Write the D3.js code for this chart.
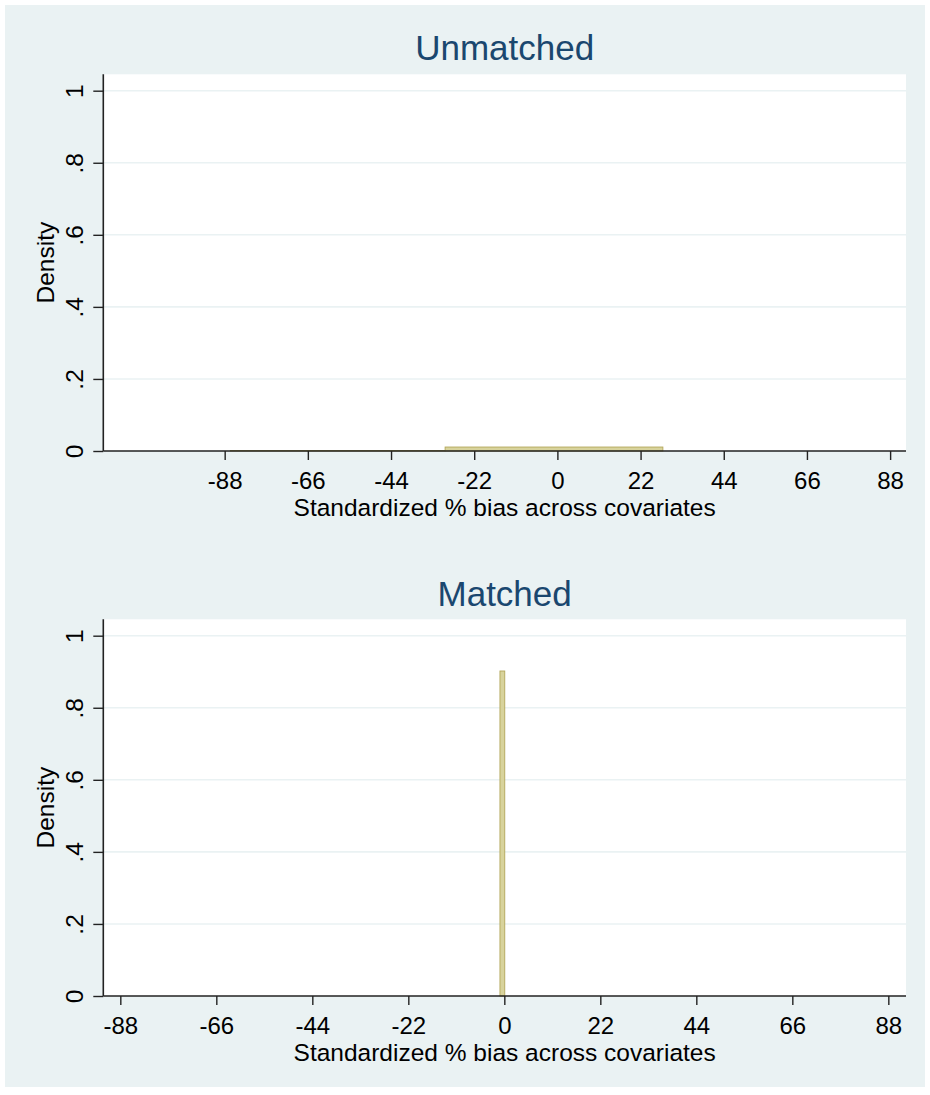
<!DOCTYPE html>
<html>
<head>
<meta charset="utf-8">
<script src="https://cdn.jsdelivr.net/npm/d3@7"></script>
<style>
  html, body { margin: 0; padding: 0; background: #ffffff; }
  svg { display: block; font-family: "Liberation Sans", Arial, sans-serif; }
</style>
</head>
<body>
<svg id="chart" width="930" height="1095"></svg>
<script>
// ---- data ----
const panelTitles = ["Unmatched", "Matched"];
const xTicks = [-88, -66, -44, -22, 0, 22, 44, 66, 88];
const xTickLabels = ["-88", "-66", "-44", "-22", "0", "22", "44", "66", "88"];
const yTicks = [0, 0.2, 0.4, 0.6, 0.8, 1];
const yTickLabels = ["0", ".2", ".4", ".6", ".8", "1"];
const xAxisTitle = "Standardized % bias across covariates";
const yAxisTitle = "Density";

// x axis ranges
const unmatchedXRange = [-120.1, 92.2];
const matchedXRange = [-91.9, 92.05];
const yRange = [0, 1.0455];

// histogram bins
const unmatchedBinStart = [-86.5, -29.7];
const unmatchedBinEnd = [-29.7, 27.9];
const unmatchedDensity = [0.0015, 0.011];

const matchedBinStart = [-1.0];
const matchedBinEnd = [0.1];
const matchedDensity = [0.902];

// ---- drawing ----
const svg = d3.select("#chart");
const bg = "#eaf2f3";
const font = "Liberation Sans, Arial, sans-serif";

svg.append("rect").attr("x", 5).attr("y", 5).attr("width", 920).attr("height", 1082)
  .attr("fill", bg);

const panels = [
  { title: panelTitles[0], xr: unmatchedXRange, s: unmatchedBinStart, e: unmatchedBinEnd, d: unmatchedDensity,
    left: 103.3, right: 906, top: 74.3, bottom: 451, titleY: 60 },
  { title: panelTitles[1], xr: matchedXRange, s: matchedBinStart, e: matchedBinEnd, d: matchedDensity,
    left: 103.3, right: 906, top: 619.3, bottom: 996, titleY: 606 }
];

panels.forEach(p => {
  const x = d3.scaleLinear().domain(p.xr).range([p.left, p.right]);
  const y = d3.scaleLinear().domain(yRange).range([p.bottom, p.top]);
  const g = svg.append("g");

  g.append("rect").attr("x", p.left).attr("y", p.top)
    .attr("width", p.right - p.left).attr("height", p.bottom - p.top)
    .attr("fill", "#ffffff");

  // grid lines
  g.selectAll("line.grid").data(yTicks.filter(t => t > 0)).enter().append("line")
    .attr("x1", p.left).attr("x2", p.right)
    .attr("y1", d => y(d)).attr("y2", d => y(d))
    .attr("stroke", bg).attr("stroke-width", 1.6);

  // bars
  const bins = p.s.map((s, i) => ({ s, e: p.e[i], d: p.d[i] }));
  g.selectAll("rect.bar").data(bins).enter().append("rect")
    .attr("x", b => x(b.s))
    .attr("width", b => x(b.e) - x(b.s))
    .attr("y", b => y(b.d))
    .attr("height", b => y(0) - y(b.d))
    .attr("fill", "#d8d39c")
    .attr("stroke", "#b3a65a")
    .attr("stroke-width", 0.9);

  // x axis
  const xa = g.append("g").attr("transform", `translate(0,${p.bottom})`)
    .call(d3.axisBottom(x).tickValues(xTicks).tickSize(9)
      .tickFormat((d, i) => xTickLabels[i]));
  xa.select(".domain").attr("stroke", "#222").attr("stroke-width", 1.6)
    .attr("d", `M${p.left},0H${p.right}`);
  xa.selectAll(".tick line").attr("stroke", "#222").attr("stroke-width", 1.4);
  xa.selectAll(".tick text").attr("font-size", 24).attr("fill", "#000")
    .attr("font-family", font)
    .attr("dy", null).attr("y", 38);

  // y axis
  const ya = g.append("g").attr("transform", `translate(${p.left},0)`)
    .call(d3.axisLeft(y).tickValues(yTicks).tickSize(10).tickFormat((d, i) => yTickLabels[i]));
  ya.select(".domain").attr("stroke", "#222").attr("stroke-width", 1.6)
    .attr("d", `M0,${p.top}V${p.bottom}`);
  ya.selectAll(".tick line").attr("stroke", "#222").attr("stroke-width", 1.4);
  ya.selectAll(".tick text").attr("font-size", 24.5).attr("fill", "#000")
    .attr("font-family", font)
    .attr("x", null).attr("dy", null)
    .attr("text-anchor", "middle")
    .attr("transform", "translate(-20,0) rotate(-90)");

  // titles
  g.append("text").attr("x", (p.left + p.right) / 2).attr("y", p.titleY)
    .attr("text-anchor", "middle").attr("font-size", 35).attr("fill", "#1a476f")
    .text(p.title);

  g.append("text").attr("x", (p.left + p.right) / 2).attr("y", p.bottom + 65)
    .attr("text-anchor", "middle").attr("font-size", 24.5).attr("fill", "#000")
    .text(xAxisTitle);

  g.append("text")
    .attr("transform", `translate(54,${(p.top + p.bottom) / 2}) rotate(-90)`)
    .attr("text-anchor", "middle").attr("font-size", 24.5).attr("fill", "#000")
    .text(yAxisTitle);
});
</script>
</body>
</html>
